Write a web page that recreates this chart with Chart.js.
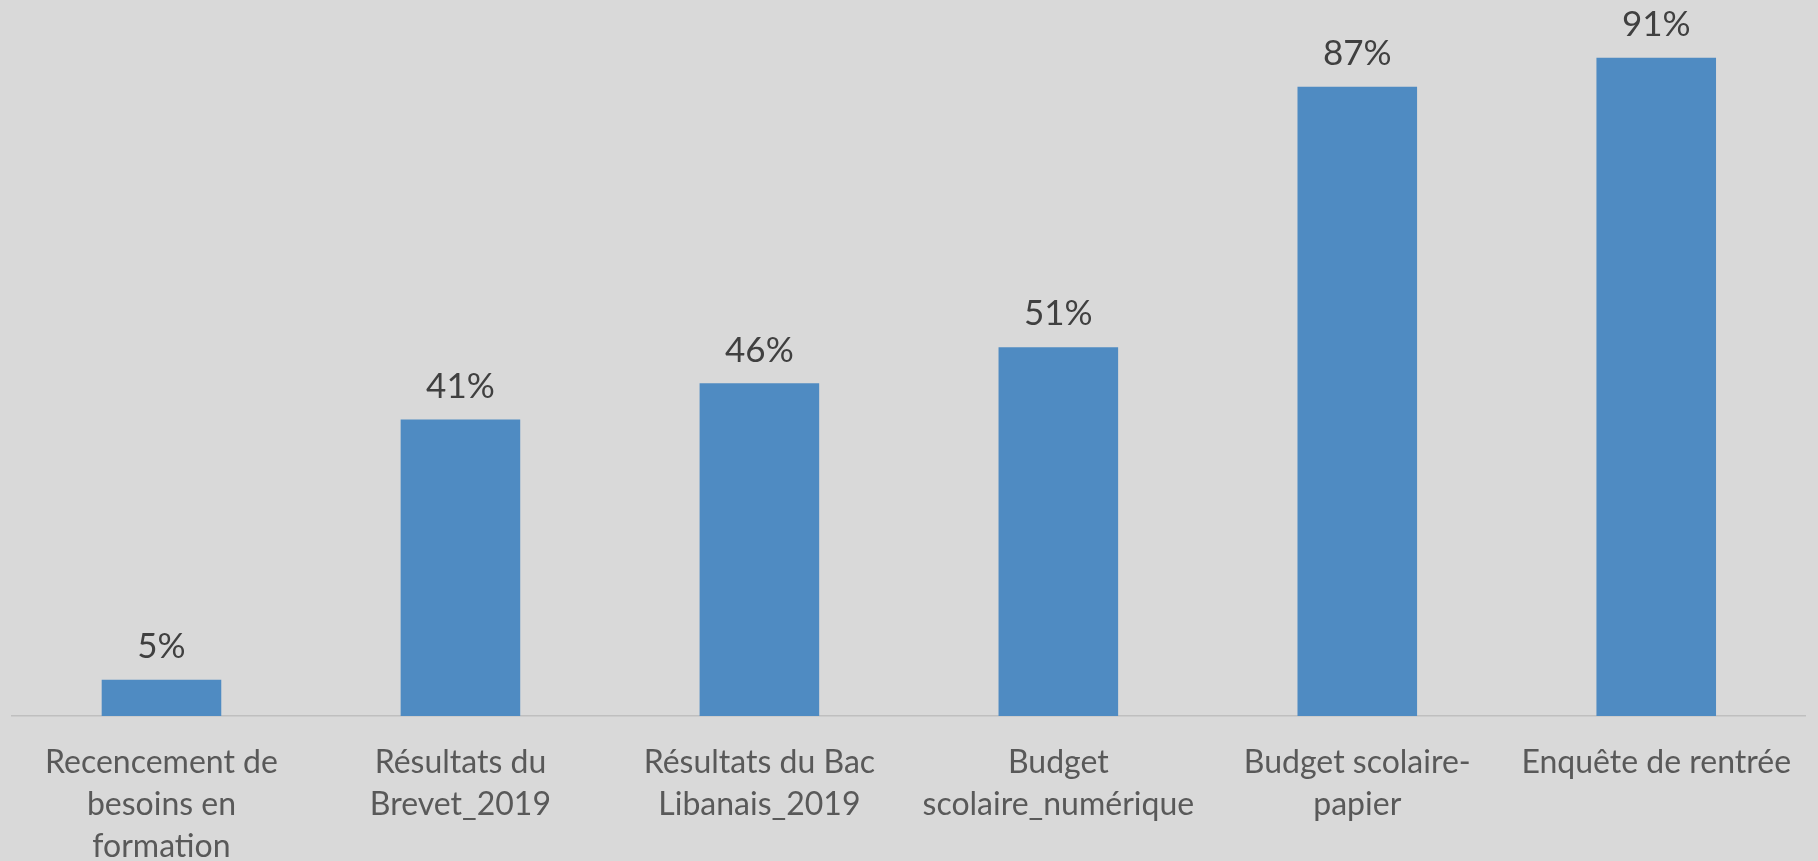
<!DOCTYPE html>
<html>
<head>
<meta charset="utf-8">
<script src="https://cdn.jsdelivr.net/npm/chart.js@4/dist/chart.umd.min.js"></script>
<style>
  html, body { margin: 0; padding: 0; background: #d9d9d9; }
  #wrap { width: 1818px; height: 861px; }
</style>
</head>
<body>
<div id="wrap"><canvas id="chart" width="1818" height="861"></canvas></div>
<script>
/* ===== données ===== */
const categories = [
  ['Recencement de', 'besoins en', 'formation'],
  ['Résultats du', 'Brevet_2019'],
  ['Résultats du Bac', 'Libanais_2019'],
  ['Budget', 'scolaire_numérique'],
  ['Budget scolaire-', 'papier'],
  ['Enquête de rentrée']
];
const values = [5, 41, 46, 51, 87, 91];

/* ===== étiquettes de valeur ===== */
const valueLabels = {
  id: 'valueLabels',
  afterDatasetsDraw(chart) {
    const ctx = chart.ctx;
    const meta = chart.getDatasetMeta(0);
    ctx.save();
    ctx.font = '35px Lato';
    ctx.fillStyle = '#404040';
    ctx.textAlign = 'center';
    ctx.textBaseline = 'middle';
    meta.data.forEach((bar, i) => {
      ctx.fillText(values[i] + '%', bar.x, bar.y - 33);
    });
    ctx.restore();
  }
};

const ctx = document.getElementById('chart').getContext('2d');
new Chart(ctx, {
  type: 'bar',
  data: {
    labels: categories,
    datasets: [{
      data: values,
      backgroundColor: '#4f8bc2',
      barPercentage: 0.4,
      categoryPercentage: 1
    }]
  },
  options: {
    responsive: false,
    animation: false,
    layout: { padding: { left: 12, right: 11, top: 0, bottom: 0 } },
    plugins: {
      legend: { display: false },
      tooltip: { enabled: false }
    },
    scales: {
      x: {
        grid: { display: false, drawTicks: false },
        border: { color: '#bfbfbf', width: 1.5 },
        ticks: {
          color: '#595959',
          font: { family: 'Lato', size: 32, lineHeight: 1.31 },
          padding: 26,
          autoSkip: false,
          maxRotation: 0
        },
        afterFit(scale) { scale.height = 145; }
      },
      y: {
        display: false,
        min: 0,
        max: 99
      }
    }
  },
  plugins: [valueLabels]
});
</script>
</body>
</html>
